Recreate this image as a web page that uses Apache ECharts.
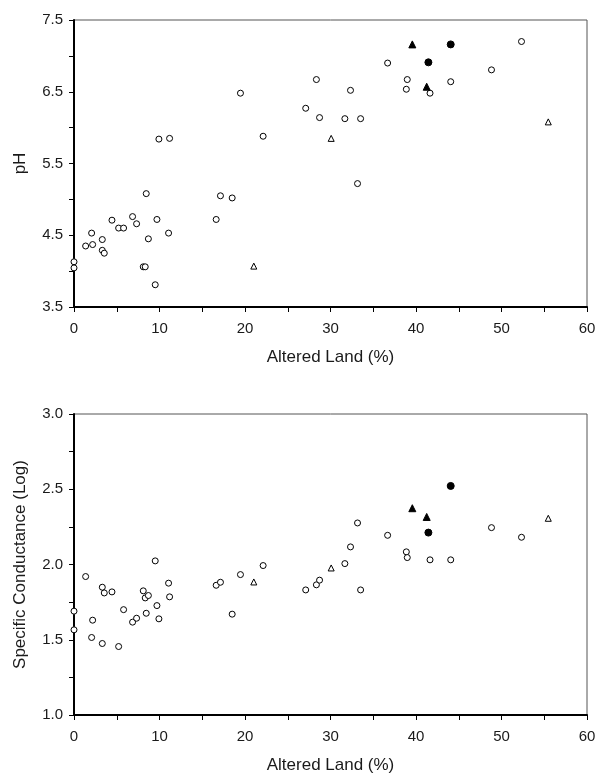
<!DOCTYPE html>
<html>
<head>
<meta charset="utf-8">
<script src="https://cdn.jsdelivr.net/npm/echarts@6/dist/echarts.min.js"></script>
<style>html,body{margin:0;padding:0;background:#fff}#c{width:599px;height:776px}</style>
</head>
<body>
<div id="c"></div>
<script>
// Open circles: altered land (%), pH, log specific conductance
const openX  = [0, 0, 1.36, 2.06, 2.18, 3.31, 3.31, 3.54, 4.44, 5.22, 5.8, 6.85, 7.32, 8.1, 8.33, 8.45, 8.7, 9.5, 9.7, 9.93, 11.06, 11.18, 16.63, 17.13, 18.5, 19.47, 22.12, 27.1, 28.35, 28.72, 31.68, 32.34, 33.16, 33.52, 36.68, 38.87, 38.98, 41.64, 44.06, 48.83, 52.34];
const openPH = [4.13, 4.045, 4.35, 4.53, 4.37, 4.44, 4.29, 4.25, 4.71, 4.60, 4.60, 4.76, 4.66, 4.06, 4.06, 5.08, 4.45, 3.81, 4.72, 5.84, 4.53, 5.85, 4.72, 5.05, 5.02, 6.48, 5.88, 6.27, 6.67, 6.14, 6.125, 6.52, 5.22, 6.125, 6.90, 6.535, 6.67, 6.48, 6.64, 6.805, 7.20];
const openSC = [1.69, 1.566, 1.92, 1.515, 1.63, 1.849, 1.475, 1.811, 1.818, 1.455, 1.70, 1.617, 1.643, 1.825, 1.778, 1.676, 1.794, 2.024, 1.727, 1.639, 1.876, 1.785, 1.862, 1.882, 1.67, 1.933, 1.993, 1.831, 1.865, 1.896, 2.006, 2.117, 2.276, 1.831, 2.194, 2.084, 2.046, 2.031, 2.031, 2.245, 2.181];
// Open triangles
const openTriX  = [21.03, 30.08, 55.47];
const openTriPH = [4.07, 5.85, 6.08];
const openTriSC = [1.884, 1.977, 2.307];
// Filled triangles
const fillTriX  = [39.57, 41.25];
const fillTriPH = [7.16, 6.57];
const fillTriSC = [2.374, 2.316];
// Filled circles
const fillCirX  = [41.45, 44.06];
const fillCirPH = [6.91, 7.16];
const fillCirSC = [2.212, 2.522];

const xTicks = [0, 10, 20, 30, 40, 50, 60];

const zip = (a, b) => a.map((v, i) => [v, b[i]]);
const txt = '#1a1a1a';
const font = 'Arial, "Liberation Sans", sans-serif';

function xAxis(gi) {
  return {
    type: 'value', gridIndex: gi, min: xTicks[0], max: xTicks[xTicks.length - 1], interval: 10,
    name: 'Altered Land (%)', nameLocation: 'middle', nameGap: 42,
    nameTextStyle: { fontSize: 17, color: txt, fontFamily: font },
    axisLine: { show: true, onZero: false, lineStyle: { color: '#000', width: 2 } },
    axisTick: { show: true, inside: false, length: 5, lineStyle: { color: '#000', width: 1 } },
    minorTick: { show: true, splitNumber: 2, length: 5, lineStyle: { color: '#000', width: 1 } },
    axisLabel: { fontSize: 15, color: txt, fontFamily: font, margin: 14 },
    splitLine: { show: false }
  };
}
function yAxis(gi, name, min, max, interval, labelStep) {
  return {
    type: 'value', gridIndex: gi, min: min, max: max, interval: interval,
    name: name, nameLocation: 'middle', nameGap: 45,
    nameTextStyle: { fontSize: 17, color: txt, fontFamily: font },
    axisLine: { show: true, onZero: false, lineStyle: { color: '#000', width: 2 } },
    axisTick: { show: true, inside: false, length: 5, lineStyle: { color: '#000', width: 1 } },
    axisLabel: {
      fontSize: 15, color: txt, fontFamily: font, margin: 11,
      formatter: function (v) {
        const k = Math.round((v - min) / labelStep * 1000) / 1000;
        return Math.abs(k - Math.round(k)) < 1e-6 ? v.toFixed(1) : '';
      }
    },
    splitLine: { show: false }
  };
}

function series(xi, data, symbol, size, filled) {
  return {
    type: 'scatter', xAxisIndex: xi, yAxisIndex: xi, data: data,
    symbol: symbol, symbolSize: size,
    itemStyle: { color: filled ? '#000' : '#fff', borderColor: '#000', borderWidth: 1, opacity: 1 },
    emphasis: { disabled: true }, z: filled ? 4 : 3
  };
}

const chart = echarts.init(document.getElementById('c'), null, { renderer: 'canvas' });
chart.setOption({
  animation: false,
  backgroundColor: '#fff',
  grid: [
    { left: 74, top: 20, width: 513, height: 287, show: true, borderColor: '#555', borderWidth: 1, backgroundColor: 'transparent' },
    { left: 74, top: 414, width: 513, height: 301, show: true, borderColor: '#555', borderWidth: 1, backgroundColor: 'transparent' }
  ],
  xAxis: [xAxis(0), xAxis(1)],
  yAxis: [
    yAxis(0, 'pH', 3.5, 7.5, 0.5, 1),
    yAxis(1, 'Specific Conductance (Log)', 1.0, 3.0, 0.25, 0.5)
  ],
  series: [
    series(0, zip(openX, openPH), 'circle', 6, false),
    series(0, zip(openTriX, openTriPH), 'triangle', 6, false),
    series(0, zip(fillTriX, fillTriPH), 'triangle', 7, true),
    series(0, zip(fillCirX, fillCirPH), 'circle', 7, true),
    series(1, zip(openX, openSC), 'circle', 6, false),
    series(1, zip(openTriX, openTriSC), 'triangle', 6, false),
    series(1, zip(fillTriX, fillTriSC), 'triangle', 7, true),
    series(1, zip(fillCirX, fillCirSC), 'circle', 7, true)
  ]
});
</script>
</body>
</html>
